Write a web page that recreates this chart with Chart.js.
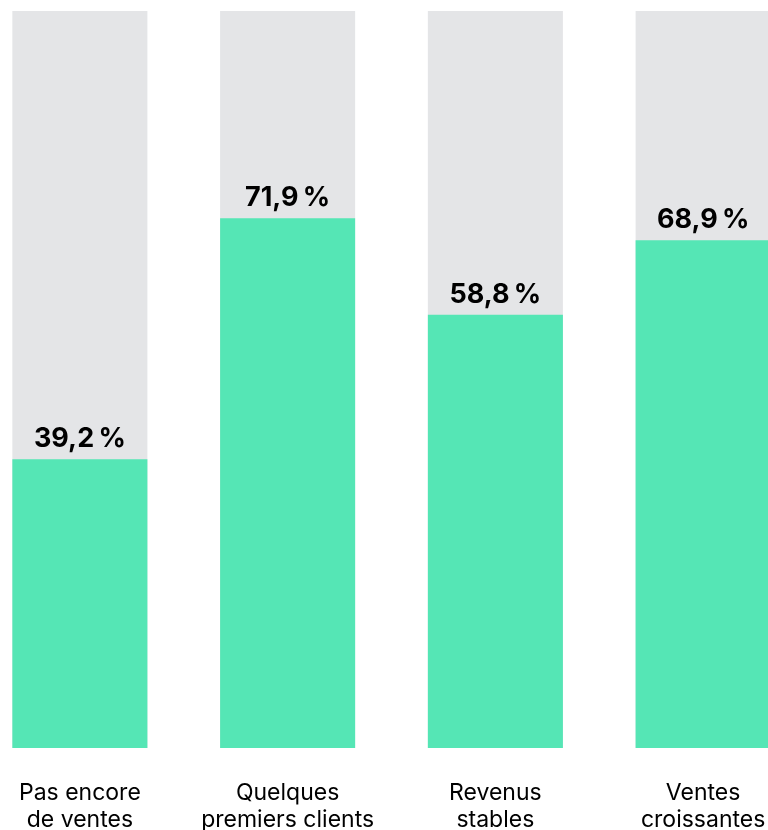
<!DOCTYPE html>
<html>
<head>
<meta charset="utf-8">
<script src="https://cdn.jsdelivr.net/npm/chart.js@4"></script>
<style>
  html, body { margin: 0; padding: 0; background: #fff; overflow: hidden; }
  #wrap { position: absolute; left: -24px; top: 0; width: 831px; height: 830px; }
</style>
</head>
<body>
<div id="wrap"><canvas id="myChart"></canvas></div>
<script>
// chart data
const categories = [
    ['Pas encore', 'de ventes'],
    ['Quelques', 'premiers clients'],
    ['Revenus', 'stables'],
    ['Ventes', 'croissantes']
];
const shares = [39.2, 71.9, 58.8, 68.9];
const track = [100, 100, 100, 100];

const green = '#55E6B5';
const grey = '#E4E5E7';

const fmt = v => v.toFixed(1).replace('.', ',') + '\u202F%';

// value labels above the green bars
const valueLabels = {
    id: 'valueLabels',
    afterDatasetsDraw(chart) {
        const c = chart.ctx;
        const meta = chart.getDatasetMeta(0);
        c.save();
        c.font = 'bold 27px Inter, "Noto Sans", sans-serif';
        c.fillStyle = '#000';
        c.textAlign = 'center';
        c.textBaseline = 'alphabetic';
        meta.data.forEach((bar, i) => {
            c.fillText(fmt(shares[i]), bar.x, bar.y - 12);
        });
        c.restore();
    }
};

const ctx = document.getElementById('myChart').getContext('2d');
const myChart = new Chart(ctx, {
    type: 'bar',
    data: {
        labels: categories,
        datasets: [{
            data: shares,
            backgroundColor: green,
            grouped: false,
            barPercentage: 0.65,
            categoryPercentage: 1
        }, {
            data: track,
            backgroundColor: grey,
            grouped: false,
            barPercentage: 0.65,
            categoryPercentage: 1
        }]
    },
    options: {
        responsive: true,
        maintainAspectRatio: false,
        animation: false,
        layout: { padding: { top: 11, left: 0, right: 0, bottom: -27 } },
        plugins: {
            legend: { display: false },
            tooltip: { enabled: false }
        },
        scales: {
            x: {
                grid: { display: false },
                border: { display: false },
                ticks: {
                    color: '#000',
                    padding: 24,
                    maxRotation: 0,
                    autoSkip: false,
                    font: { family: 'Inter, "Noto Sans", sans-serif', size: 23, lineHeight: 1.15 }
                }
            },
            y: {
                display: false,
                min: 0,
                max: 100
            }
        }
    },
    plugins: [valueLabels]
});
</script>
</body>
</html>
